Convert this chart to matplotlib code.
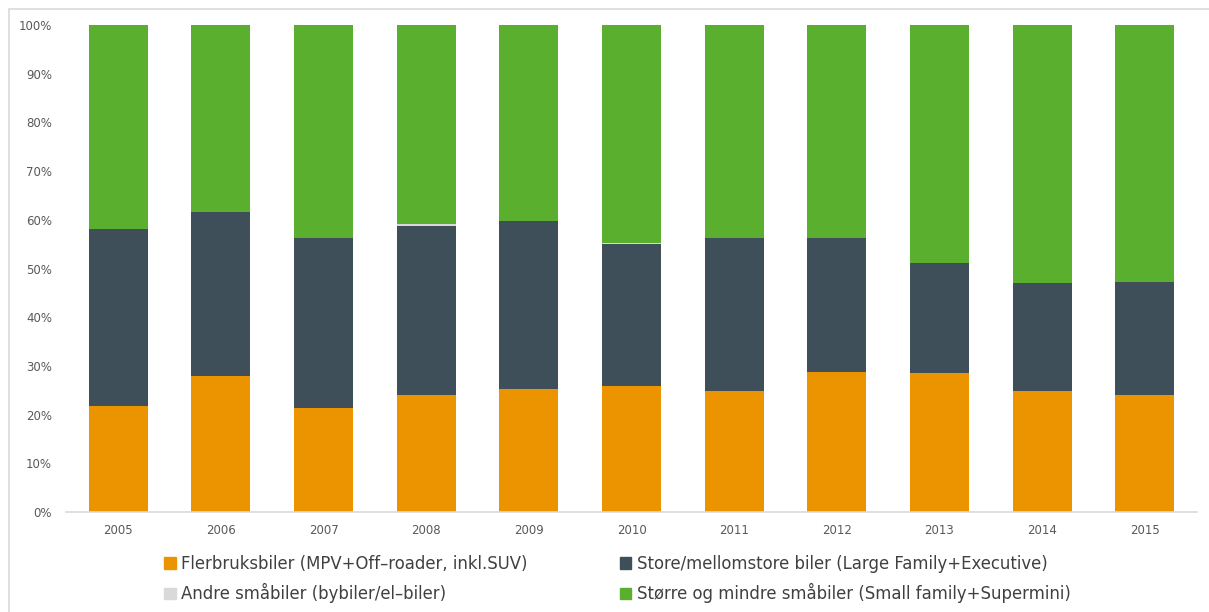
import matplotlib
matplotlib.use("Agg")
import matplotlib.pyplot as plt
from matplotlib.patches import Rectangle, Patch
from matplotlib.ticker import FuncFormatter

years = ["2005", "2006", "2007", "2008", "2009", "2010", "2011", "2012", "2013", "2014", "2015"]
flerbruk = [21.8, 27.9, 21.3, 24.0, 25.2, 25.8, 24.9, 28.7, 28.5, 24.8, 24.0]
store = [36.3, 33.8, 35.0, 34.7, 34.6, 29.2, 31.4, 27.6, 22.6, 22.2, 23.3]
andre = [0.0, 0.0, 0.0, 0.4, 0.0, 0.3, 0.0, 0.0, 0.0, 0.0, 0.0]
storre = [100 - a - b - c for a, b, c in zip(flerbruk, store, andre)]

labels = ["Flerbruksbiler (MPV+Off\u2013roader, inkl.SUV)",
          "Andre småbiler (bybiler/el\u2013biler)",
          "Store/mellomstore biler (Large Family+Executive)",
          "Større og mindre småbiler (Small family+Supermini)"]
c_orange = "#EC9400"
c_dark = "#3E4F5A"
c_gray = "#D9D9D9"
c_green = "#5BAF2F"

fig = plt.figure(figsize=(12.09, 6.12), dpi=100)
ax = fig.add_axes([66 / 1209, 1 - 512 / 612, (1197 - 66) / 1209, (512 - 25) / 612])

x = list(range(len(years)))
w = 0.575
ax.bar(x, flerbruk, w, color=c_orange, linewidth=0)
b1 = [a for a in flerbruk]
ax.bar(x, store, w, bottom=b1, color=c_dark, linewidth=0)
b2 = [a + b for a, b in zip(flerbruk, store)]
ax.bar(x, andre, w, bottom=b2, color=c_gray, linewidth=0)
b3 = [a + b for a, b in zip(b2, andre)]
ax.bar(x, storre, w, bottom=b3, color=c_green, linewidth=0)

ax.set_xlim(-0.51, 10.51)
ax.set_ylim(0, 100)
ax.set_yticks(range(0, 101, 10))
ax.yaxis.set_major_formatter(FuncFormatter(lambda v, p: f"{int(v)}%"))
ax.set_xticks(x)
ax.set_xticklabels(years)
for s in ["top", "right", "left"]:
    ax.spines[s].set_visible(False)
ax.spines["bottom"].set_color("#D9D9D9")
ax.spines["bottom"].set_linewidth(1.2)
ax.tick_params(axis="both", length=0, labelsize=8.5, labelcolor="#595959")
ax.tick_params(axis="y", pad=10)
ax.tick_params(axis="x", pad=9)

# outer frame
fig.patches.append(Rectangle((9 / 1209, -0.1), 1.2, 1 - 9 / 612 + 0.1, transform=fig.transFigure,
                             fill=False, edgecolor="#D9D9D9", linewidth=1.2))

handles = [Patch(color=c_orange), Patch(color=c_gray), Patch(color=c_dark), Patch(color=c_green)]
fig.legend(handles, labels, ncol=2, loc="upper left", bbox_to_anchor=(164 / 1209, 1 - 555 / 612),
           frameon=False, fontsize=11.9, labelcolor="#404040", handlelength=0.7, handleheight=0.7,
           handletextpad=0.35, columnspacing=5.55, labelspacing=0.62, borderpad=0, borderaxespad=0)

fig.savefig("out.png", dpi=100)
